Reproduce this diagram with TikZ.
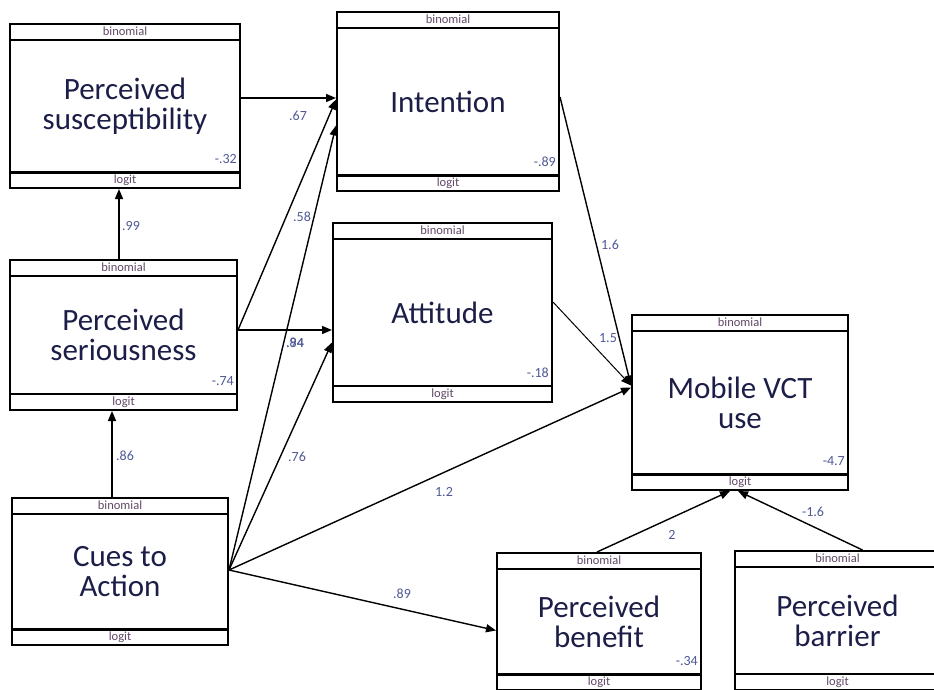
\documentclass[tikz,border=0pt]{standalone}
\usepackage{fontspec}
\setmainfont{Carlito}
\usetikzlibrary{arrows.meta,calc}

\definecolor{labelnavy}{RGB}{28,30,72}
\definecolor{coefblue}{RGB}{78,88,150}
\definecolor{stripgray}{RGB}{95,70,100}

% top and bottom strips of a variable box: name, top rule, bottom rule
\newcommand{\varstrips}[3]{
\draw [line width=#2] ($(#1.north west)+(0,17)$) -- ($(#1.north east)+(0,17)$);
\draw [line width=#3] ($(#1.south west)+(0,-17)$) -- ($(#1.south east)+(0,-17)$);
\node [striptext] (#1-dist) at ($(#1.north)+(0,8.5)$) {binomial};
\node [striptext] (#1-link) at ($(#1.south)+(0,-8.5)$) {logit};
}
\newcommand{\varicpt}[2]{
\node [coef, anchor=east] (#1-icpt) at ($(#1.south east)+(-3,-30)$) {#2};
}

\begin{document}
\begin{tikzpicture}[x=1pt,y=-1pt,
  varbox/.style={draw, line width=2pt, inner sep=0pt, align=center,
    text=labelnavy, font=\fontsize{31}{30}\selectfont},
  striptext/.style={text=stripgray, font=\fontsize{12.5}{12.5}\selectfont, inner sep=0pt},
  coef/.style={text=coefblue, font=\fontsize{14}{14}\selectfont, inner sep=1pt},
  link/.style={line width=1.4pt, -{Triangle[length=10pt,width=8pt]}}]
\useasboundingbox (0,0) rectangle (934,690);

\node [varbox, minimum width=230pt, minimum height=164pt] (susc) at (125,106) {Perceived\\susceptibility};
\node [varbox, minimum width=222pt, minimum height=179pt] (intent) at (448,101.5) {Intention};
\node [varbox, minimum width=219pt, minimum height=179pt] (attit) at (442.5,312.5) {Attitude};
\node [varbox, minimum width=227pt, minimum height=150pt] (serious) at (123.5,335) {Perceived\\seriousness};
\node [varbox, minimum width=216pt, minimum height=147pt] (cues) at (120,571.5) {Cues to\\Action};
\node [varbox, minimum width=216pt, minimum height=175pt] (mobile) at (740,402.5) {Mobile VCT\\use};
\node [varbox, minimum width=204pt, minimum height=137pt] (benefit) at (599,621.5) {Perceived\\benefit};
\node [varbox, minimum width=205pt, minimum height=139pt] (barrier) at (837.5,620.5) {Perceived\\barrier};

\varstrips{susc}{1.5pt}{3pt}
\varstrips{intent}{1.5pt}{3pt}
\varstrips{attit}{2.5pt}{2.5pt}
\varstrips{serious}{2.5pt}{1.5pt}
\varstrips{cues}{1.5pt}{3pt}
\varstrips{mobile}{1.5pt}{3pt}
\varstrips{benefit}{1.5pt}{3pt}
\varstrips{barrier}{2.5pt}{1.5pt}

\varicpt{susc}{-.32}
\varicpt{intent}{-.89}
\varicpt{attit}{-.18}
\varicpt{serious}{-.74}
\varicpt{mobile}{-4.7}
\varicpt{benefit}{-.34}

% paths
\draw [link] ([xshift=-4.5pt]serious.north) -- ([xshift=-6pt]susc.south);
\draw [link] ([xshift=-8pt]cues.north) -- ([xshift=-11.5pt]serious.south);
\draw [link] ([yshift=8pt]susc.east) -- ([yshift=3.5pt]intent.west);
\draw [link] ([yshift=5pt]serious.east) -- ([yshift=2pt]intent.west);
\draw [link] ([yshift=5pt]serious.east) -- ([yshift=-17.5pt]attit.west);
\draw [link] ([yshift=1.5pt]cues.east) -- ([yshift=-24pt]intent.west);
\draw [link] ([yshift=1.5pt]cues.east) -- ([yshift=-30pt]attit.west);
\draw [link] ([yshift=1.5pt]cues.east) -- ([yshift=15pt]mobile.west);
\draw [link] ([yshift=1.5pt]cues.east) -- ([yshift=-9pt]benefit.west);
\draw [link] ([yshift=4.5pt]intent.east) -- ([yshift=17pt]mobile.west);
\draw [link, line width=1pt] ([yshift=10.5pt]attit.east) -- ([yshift=17pt]mobile.west);
\draw [link] ([xshift=-2pt]benefit.north) -- ([xshift=-10pt]mobile.south);
\draw [link] ([xshift=25pt]barrier.north) -- ([xshift=-2pt]mobile.south);

% coefficients
\node [coef] (c-ser-sus) at (131,226) {.99};
\node [coef] (c-cue-ser) at (125,456) {.86};
\node [coef] (c-sus-int) at (298,116) {.67};
\node [coef] (c-cue-int) at (302,217) {.58};
\node [coef] (c-ser-att) at (295,343) {.94};
\node [coef] (c-cue-att0) at (295,343) {.84};
\node [coef] (c-cue-att) at (297,457) {.76};
\node [coef] (c-cue-mob) at (444,492) {1.2};
\node [coef] (c-cue-ben) at (402,594) {.89};
\node [coef] (c-int-mob) at (610,245) {1.6};
\node [coef] (c-att-mob) at (608,338) {1.5};
\node [coef] (c-ben-mob) at (672,535) {2};
\node [coef] (c-bar-mob) at (813,512) {-1.6};

\end{tikzpicture}
\end{document}
